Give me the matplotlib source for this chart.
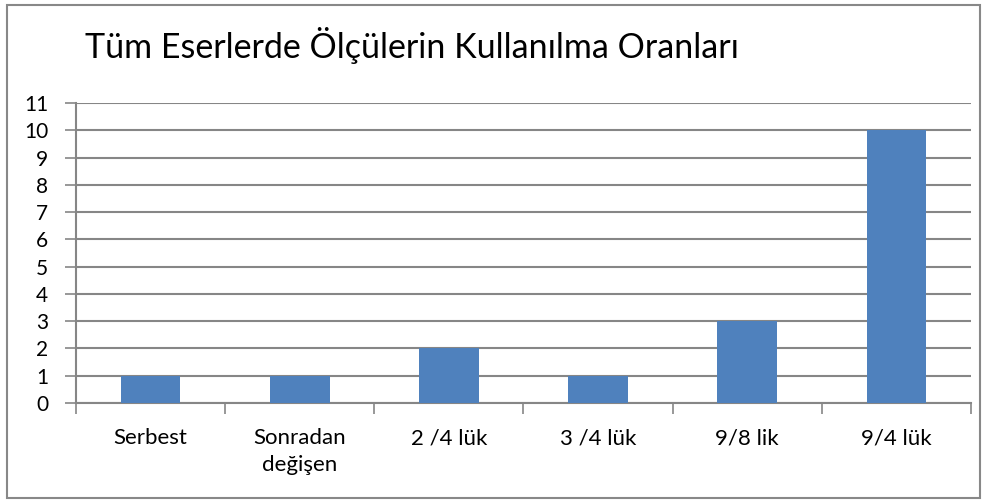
import matplotlib.pyplot as plt
from matplotlib.patches import Rectangle

plt.rcParams['font.family'] = ['Lato', 'DejaVu Sans']

categories = ['Serbest', 'Sonradan\ndeğişen', '2 /4 lük', '3 /4 lük', '9/8 lik', '9/4 lük']
counts = [1, 1, 2, 1, 3, 10]
yticks = list(range(0, 12))

bar_color = '#4F81BD'
grid_color = '#868686'

fig = plt.figure(figsize=(9.88, 5.03), dpi=100)
ax = fig.add_axes([0.0769, 0.1988, 0.9059, 0.5964])

x = list(range(len(categories)))
ax.bar(x, counts, width=0.4, color=bar_color, zorder=3)

ax.set_xlim(-0.5, len(categories) - 0.5)
ax.set_ylim(0, 11)
ax.set_yticks(yticks)
ax.set_yticklabels([str(v) for v in yticks], fontsize=15)
ax.yaxis.grid(True, color=grid_color, linewidth=1.5, zorder=0)

# category labels centred, tick marks sit on the category boundaries
ax.set_xticks(x)
ax.set_xticklabels(categories, fontsize=16, linespacing=1.45)
ax.tick_params(axis='x', length=0, pad=18)
ax.set_xticks([i - 0.5 for i in range(len(categories) + 1)], minor=True)
ax.tick_params(axis='x', which='minor', length=8, width=1.2, color=grid_color)
ax.tick_params(axis='y', length=8, width=1.2, color=grid_color, pad=12)

for side in ['top', 'right']:
    ax.spines[side].set_visible(False)
for side in ['left', 'bottom']:
    ax.spines[side].set_color(grid_color)
    ax.spines[side].set_linewidth(1.5)

fig.text(85 / 988, 1 - 45 / 503, 'Tüm Eserlerde Ölçülerin Kullanılma Oranları',
         fontsize=24.5, ha='left', va='center')

fig.patches.append(Rectangle((7 / 988, 5 / 503), 973 / 988, 493 / 503,
                             transform=fig.transFigure, fill=False,
                             edgecolor='#888888', linewidth=1.5))

fig.savefig('out.png', dpi=100)
